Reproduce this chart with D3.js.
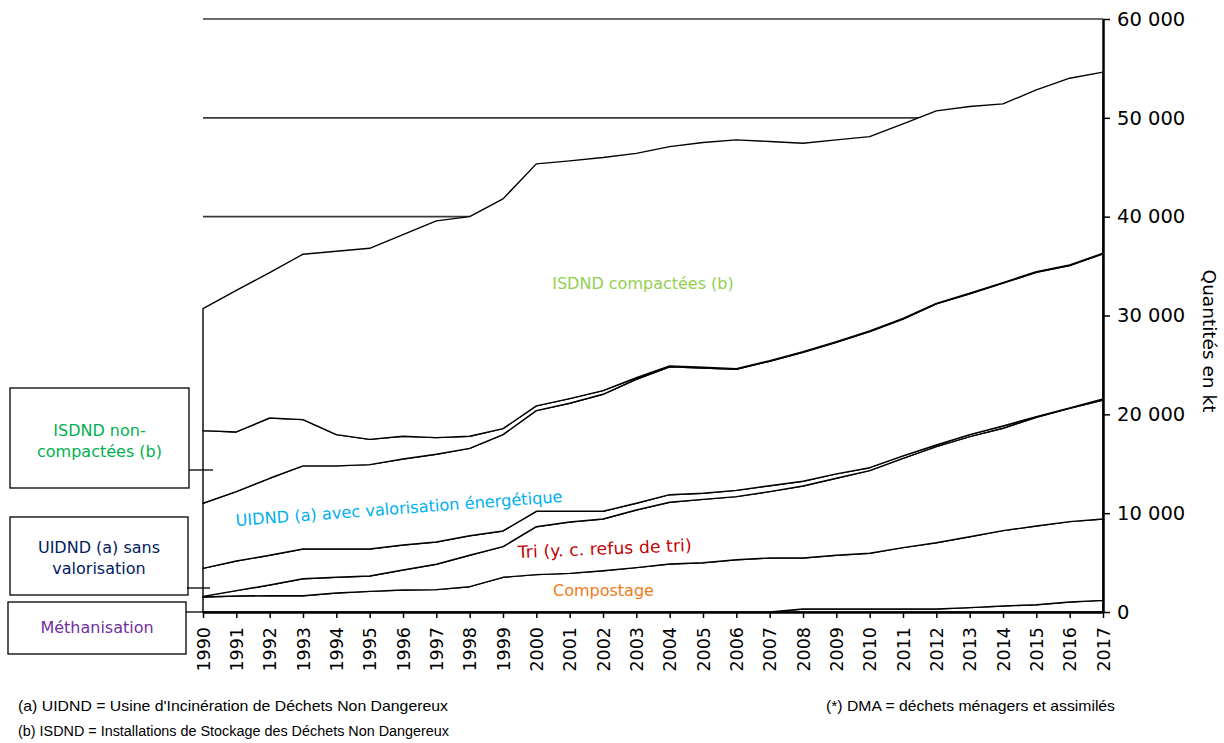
<!DOCTYPE html>
<html>
<head>
<meta charset="utf-8">
<script src="https://cdn.jsdelivr.net/npm/d3@7"></script>
<style>
  body { margin: 0; background: #fff; }
  svg { display: block; }
</style>
</head>
<body>
<div id="chart"></div>
<script>
// years on the x axis
var years = d3.range(1990, 2018);

// quantities in kt, one value per year (stacked from the bottom up)
var methanisation = [0,0,0,0,0,0,0,0,0,0,0,0,0,0,0,0,0,0,300,300,300,300,300,440,610,740,1010,1180];
var compostage = [1520,1620,1650,1650,1920,2090,2230,2260,2560,3510,3780,3910,4180,4490,4860,4990,5290,5460,5160,5440,5640,6210,6710,7180,7620,7960,8130,8230];
var tri = [60,540,1080,1720,1590,1550,2020,2570,3180,3100,4850,5200,5230,5830,6240,6410,6380,6720,7290,7790,8360,9040,9720,10120,10360,11000,11470,12040];
var uidndSans = [2840,3000,3010,3010,2870,2740,2530,2250,1980,1590,1560,1080,780,680,770,610,640,600,480,440,300,240,170,210,230,70,40,110];
var uidndAvec = [6580,7020,7790,8400,8400,8530,8700,8880,8840,9750,10190,10930,11840,12550,12930,12670,12250,12590,13050,13320,13780,13850,14270,14240,14450,14610,14410,14680];
var isdndNonComp = [7350,6040,6100,4680,3170,2560,2300,1680,1220,600,470,470,370,150,100,80,60,60,60,60,60,60,60,60,60,60,60,60];
var isdndComp = [12350,14320,14710,16740,18550,19330,20400,21930,22220,23250,24490,24060,23580,22700,22190,22740,23150,22170,21090,20420,19660,19690,19470,18890,18080,18390,18890,18320];

var yTicks = [0, 10000, 20000, 30000, 40000, 50000, 60000];

var seriesKeys = ["methanisation", "compostage", "tri", "uidndSans", "uidndAvec", "isdndNonComp", "isdndComp"];
var seriesData = {
    methanisation: methanisation, compostage: compostage, tri: tri,
    uidndSans: uidndSans, uidndAvec: uidndAvec,
    isdndNonComp: isdndNonComp, isdndComp: isdndComp
};

var table = years.map(function (yr, i) {
    var row = {year: yr};
    seriesKeys.forEach(function (k) { row[k] = seriesData[k][i]; });
    return row;
});

var width = 1224, height = 743;

var svg = d3.select("#chart").append("svg")
    .attr("width", width)
    .attr("height", height);

var x = d3.scaleLinear().domain([1990, 2017]).range([203, 1103]);
var y = d3.scaleLinear().domain([0, 60000]).range([612, 19]);

var fr = d3.formatLocale({decimal: ",", thousands: " ", grouping: [3], currency: ["", "€"]});
var fmt = fr.format(",d");

var lab = "DejaVu Sans, Verdana, sans-serif";

// gridlines (the white areas hide them under the curves)
svg.append("g")
    .selectAll("line")
    .data(yTicks.slice(1))
    .enter().append("line")
    .attr("x1", x(1990))
    .attr("x2", x(2017))
    .attr("y1", function (d) { return y(d); })
    .attr("y2", function (d) { return y(d); })
    .attr("stroke", "#3a3a3a")
    .attr("stroke-width", 1.6);

// stacked areas
var stack = d3.stack().keys(seriesKeys);
var layers = stack(table);

var area = d3.area()
    .x(function (d) { return x(d.data.year); })
    .y0(function (d) { return y(d[0]); })
    .y1(function (d) { return y(d[1]); });

svg.append("g")
    .selectAll("path")
    .data(layers)
    .enter().append("path")
    .attr("d", area)
    .attr("fill", "#fff")
    .attr("stroke", "#000")
    .attr("stroke-width", 1.4)
    .attr("stroke-linejoin", "round");

// x axis
var xAxis = svg.append("g")
    .attr("transform", "translate(0," + y(0) + ")")
    .call(d3.axisBottom(x).tickValues(years).tickFormat(d3.format("d")).tickSize(6).tickSizeOuter(0));
xAxis.select(".domain").attr("stroke-width", 2.5);
xAxis.selectAll(".tick line").attr("stroke-width", 1.5);
xAxis.selectAll("text")
    .style("font-family", lab)
    .style("font-size", "17.5px")
    .attr("fill", "#000")
    .attr("text-anchor", "end")
    .attr("transform", "rotate(-90)")
    .attr("x", -15)
    .attr("y", 0)
    .attr("dy", "0.35em");

// y axis on the right
var yAxis = svg.append("g")
    .attr("transform", "translate(" + x(2017) + ",0)")
    .call(d3.axisRight(y).tickValues(yTicks).tickFormat(fmt).tickSize(7).tickSizeOuter(0));
yAxis.select(".domain").attr("stroke-width", 2.5);
yAxis.selectAll(".tick line").attr("stroke-width", 1.5);
yAxis.selectAll("text")
    .style("font-family", lab)
    .style("font-size", "19.5px")
    .attr("fill", "#000")
    .attr("x", 14);

svg.append("text")
    .attr("transform", "translate(1203,341) rotate(90)")
    .attr("text-anchor", "middle")
    .style("font-family", lab)
    .style("font-size", "18.5px")
    .text("Quantités en kt");

// in-chart labels
svg.append("text")
    .attr("x", 643).attr("y", 289)
    .attr("text-anchor", "middle")
    .style("font-family", lab).style("font-size", "16px")
    .attr("fill", "#92d050")
    .text("ISDND compactées (b)");

svg.append("text")
    .attr("transform", "translate(236,526) rotate(-4.2)")
    .style("font-family", lab).style("font-size", "16.2px")
    .attr("fill", "#00b0f0")
    .text("UIDND (a) avec valorisation énergétique");

svg.append("text")
    .attr("transform", "translate(518,558) rotate(-2.3)")
    .style("font-family", lab).style("font-size", "17px")
    .attr("fill", "#c00000")
    .attr("textLength", 174)
    .attr("lengthAdjust", "spacing")
    .text("Tri (y. c. refus de tri)");

svg.append("text")
    .attr("x", 553).attr("y", 596)
    .style("font-family", lab).style("font-size", "16px")
    .attr("fill", "#f07a1a")
    .text("Compostage");

// boxed labels on the left, with leader lines
var boxes = [
    {x: 10, y: 388, w: 179, h: 100, lines: ["ISDND non-", "compactées (b)"], color: "#00b050", ty: 430, ly: 470, lx1: 189, lx2: 213},
    {x: 10, y: 517, w: 178, h: 78, lines: ["UIDND (a) sans", "valorisation"], color: "#002060", ty: 547, ly: 588, lx1: 187, lx2: 210},
    {x: 8, y: 602, w: 178, h: 52, lines: ["Méthanisation"], color: "#7030a0", ty: 627, ly: 612, lx1: 186, lx2: 203}
];

var bg = svg.append("g");
boxes.forEach(function (b) {
    bg.append("rect")
        .attr("x", b.x).attr("y", b.y)
        .attr("width", b.w).attr("height", b.h)
        .attr("fill", "#fff")
        .attr("stroke", "#000")
        .attr("stroke-width", 1.3);
    bg.append("line")
        .attr("x1", b.lx1).attr("x2", b.lx2)
        .attr("y1", b.ly).attr("y2", b.ly)
        .attr("stroke", "#000").attr("stroke-width", 1.3);
    b.lines.forEach(function (t, i) {
        bg.append("text")
            .attr("x", b.x + b.w / 2)
            .attr("y", b.ty + i * 21)
            .attr("dy", "0.35em")
            .attr("text-anchor", "middle")
            .style("font-family", lab).style("font-size", "16px")
            .attr("fill", b.color)
            .text(t);
    });
});

// footnotes
var note = "Liberation Sans Narrow, Arial Narrow, sans-serif";
svg.append("text")
    .attr("x", 18).attr("y", 711)
    .style("font-family", note).style("font-size", "15px")
    .attr("textLength", 430).attr("lengthAdjust", "spacingAndGlyphs")
    .text("(a) UIDND = Usine d'Incinération de Déchets Non Dangereux");
svg.append("text")
    .attr("x", 18).attr("y", 736)
    .style("font-family", note).style("font-size", "14px")
    .attr("textLength", 431).attr("lengthAdjust", "spacingAndGlyphs")
    .text("(b) ISDND = Installations de Stockage des Déchets Non Dangereux");
svg.append("text")
    .attr("x", 826).attr("y", 711)
    .style("font-family", note).style("font-size", "15px")
    .attr("textLength", 289).attr("lengthAdjust", "spacingAndGlyphs")
    .text("(*) DMA = déchets ménagers et assimilés");
</script>
</body>
</html>
